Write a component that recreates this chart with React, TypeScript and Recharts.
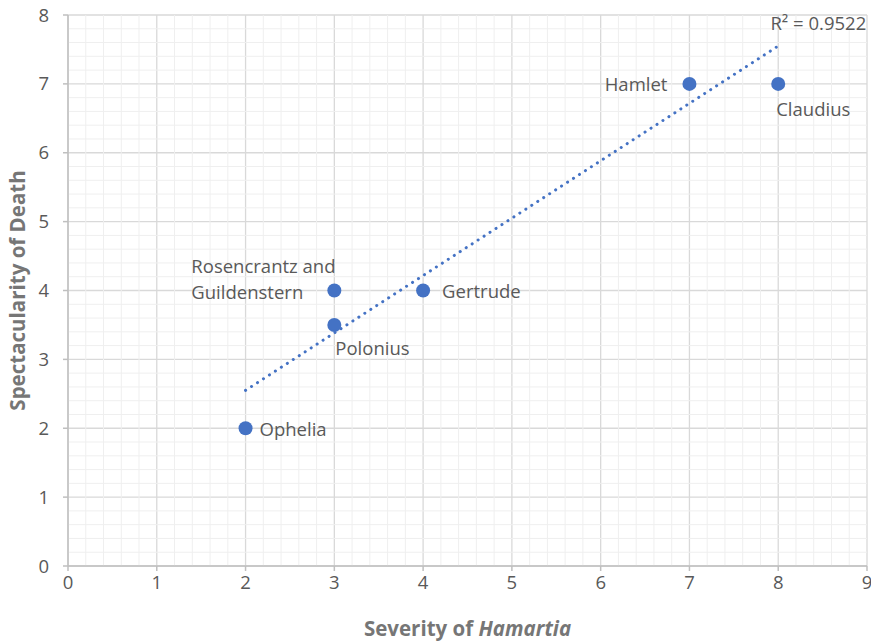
import React from 'react';
import { ScatterChart, Scatter, XAxis, YAxis, CartesianGrid, ReferenceLine, ReferenceDot, Label } from 'recharts';

// --- Data ---
const characters = ['Ophelia', 'Polonius', 'Rosencrantz and Guildenstern', 'Gertrude', 'Hamlet', 'Claudius'];
const hamartia = [2, 3, 3, 4, 7, 8];
const spectacle = [2, 3.5, 4, 4, 7, 7];

const xTicks = [0, 1, 2, 3, 4, 5, 6, 7, 8, 9];
const yTicks = [0, 1, 2, 3, 4, 5, 6, 7, 8];

// trendline ends as drawn in the picture
const trendX = [2, 8];
const trendY = [2.55, 7.55];
const rSquared = 'R² = 0.9522';

const points = characters.map((name, i) => ({ name, x: hamartia[i], y: spectacle[i] }));

// minor grid every 0.2
const minorX: number[] = [];
for (let i = 1; i < 45; i++) if (i % 5 !== 0) minorX.push(i / 5);
const minorY: number[] = [];
for (let i = 1; i < 40; i++) if (i % 5 !== 0) minorY.push(i / 5);

// label placement (styling, not data)
const labelPlace: Record<string, { dx: number; dy: number; anchor: 'start' | 'end'; lines?: string[] }> = {
  Ophelia: { dx: 14, dy: 0, anchor: 'start' },
  Polonius: { dx: 1, dy: 23, anchor: 'start' },
  'Rosencrantz and Guildenstern': { dx: -143, dy: 0, anchor: 'start', lines: ['Rosencrantz and', 'Guildenstern'] },
  Gertrude: { dx: 19, dy: 0, anchor: 'start' },
  Hamlet: { dx: -22, dy: 0, anchor: 'end' },
  Claudius: { dx: -2, dy: 25, anchor: 'start' },
};

const FONT = '"Open Sans", sans-serif';
const BLUE = '#4472C4';
const TEXT = '#595959';
const FS = 18.5;

const PointShape = (props: any) => {
  const { cx, cy, payload } = props;
  const p = labelPlace[payload.name];
  return (
    <g>
      <circle cx={cx} cy={cy} r={7} fill={BLUE} />
      {p.lines ? (
        <text x={cx + p.dx} y={cy + p.dy} textAnchor={p.anchor} fontFamily={FONT} fontSize={FS} fill={TEXT} dominantBaseline="central">
          <tspan x={cx + p.dx} dy={-26}>{p.lines[0]}</tspan>
          <tspan x={cx + p.dx} dy={26}>{p.lines[1]}</tspan>
        </text>
      ) : (
        <text x={cx + p.dx} y={cy + p.dy} textAnchor={p.anchor} fontFamily={FONT} fontSize={FS} fill={TEXT} dominantBaseline="central">
          {payload.name}
        </text>
      )}
    </g>
  );
};

const XTitle = (props: any) => {
  const { viewBox } = props;
  return (
    <text x={viewBox.x + viewBox.width / 2} y={viewBox.y + 62} textAnchor="middle" dominantBaseline="central" fontFamily={FONT} fontSize={20.5} fontWeight="bold" fill="#767676">
      Severity of <tspan fontStyle="italic">Hamartia</tspan>
    </text>
  );
};

const YTitle = (props: any) => {
  const { viewBox } = props;
  const cx = viewBox.x + 9;
  const cy = viewBox.y + viewBox.height / 2;
  return (
    <text x={cx} y={cy} transform={`rotate(-90 ${cx} ${cy})`} textAnchor="middle" dominantBaseline="central" fontFamily={FONT} fontSize={20.5} fontWeight="bold" fill="#767676">
      Spectacularity of Death
    </text>
  );
};

const RLabel = (props: any) => {
  const { viewBox } = props;
  return (
    <text x={viewBox.x + 88} y={viewBox.y - 23} textAnchor="end" dominantBaseline="central" fontFamily={FONT} fontSize={FS} fill={TEXT}>
      {rSquared}
    </text>
  );
};

const App: React.FC = () => {
  return (
    <div style={{ position: 'absolute', left: 0, top: 0, width: 871, height: 641, background: '#fff' }}>
      <ScatterChart width={871} height={641} margin={{ top: 15, right: 4, bottom: 15, left: 8 }}>
        {minorX.map(v => (
          <ReferenceLine key={'mx' + v} x={v} stroke="#EFEFEF" strokeWidth={1} />
        ))}
        {minorY.map(v => (
          <ReferenceLine key={'my' + v} y={v} stroke="#EFEFEF" strokeWidth={1} />
        ))}
        <CartesianGrid stroke="#D9D9D9" strokeWidth={1.3} />
        <XAxis
          type="number"
          dataKey="x"
          domain={[0, 9]}
          ticks={xTicks}
          height={60}
          axisLine={{ stroke: '#BFBFBF', strokeWidth: 1.5 }}
          tickLine={{ stroke: '#BFBFBF', strokeWidth: 1.5 }}
          tickSize={5}
          tickMargin={5}
          tick={{ fill: TEXT, fontSize: FS, fontFamily: FONT }}
          interval={0}
        >
          <Label content={<XTitle />} />
        </XAxis>
        <YAxis
          type="number"
          dataKey="y"
          domain={[0, 8]}
          ticks={yTicks}
          width={60}
          axisLine={{ stroke: '#BFBFBF', strokeWidth: 1.5 }}
          tickLine={{ stroke: '#BFBFBF', strokeWidth: 1.5 }}
          tickSize={5}
          tickMargin={14}
          tick={{ fill: TEXT, fontSize: FS, fontFamily: FONT }}
          interval={0}
        >
          <Label content={<YTitle />} />
        </YAxis>
        <ReferenceLine
          segment={[{ x: trendX[0], y: trendY[0] }, { x: trendX[1], y: trendY[1] }]}
          stroke={BLUE}
          strokeWidth={3}
          strokeDasharray="0.1 7"
          strokeLinecap="round"
        />
        <ReferenceDot x={trendX[1]} y={trendY[1]} r={0} stroke="none" fill="none" label={<RLabel />} />
        <Scatter data={points} shape={<PointShape />} isAnimationActive={false} />
      </ScatterChart>
    </div>
  );
};

export default App;
